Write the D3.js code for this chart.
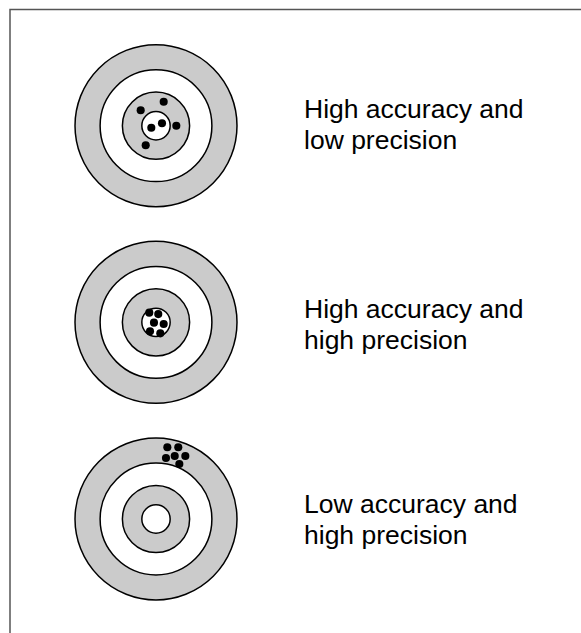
<!DOCTYPE html>
<html>
<head>
<meta charset="utf-8">
<script src="https://cdn.jsdelivr.net/npm/d3@7"></script>
<style>
html,body{margin:0;padding:0;background:#fff;}
svg{display:block;}
</style>
</head>
<body>
<script>
// ---- data ----
const targets = ["lowPrecision", "highBoth", "lowAccuracy"];
const labels = [
  ["High accuracy and", "low precision"],
  ["High accuracy and", "high precision"],
  ["Low accuracy and", "high precision"]
];
// ring radii in target units (outer = 10), outermost first
const ringRadii = [10, 6.9, 4.15, 1.75];
const ringFills = ["#cbcbcb", "#ffffff", "#cbcbcb", "#ffffff"];
// shot positions [dx, dy] in target units relative to the centre
const shotsLowPrecision = [[0.95,-2.96],[-1.89,-1.9],[0.74,-0.3],[-0.58,0.25],[2.51,0],[-1.27,2.42]];
const shotsHighBoth = [[-0.83,-1.2],[0.28,-1.02],[-0.25,0.04],[0.95,0.21],[-0.74,1.11],[0.53,1.36]];
const shotsLowAccuracy = [[1.4,-8.85],[2.75,-8.85],[1.23,-7.53],[2.31,-7.78],[3.62,-7.78],[2.88,-6.79]];
const shots = [shotsLowPrecision, shotsHighBoth, shotsLowAccuracy];
const shotRadius = 0.5;

// ---- drawing ----
const W = 581, H = 633;
const svg = d3.select("body").append("svg").attr("width", W).attr("height", H);

svg.append("rect")
  .attr("x", 10).attr("y", 9.5)
  .attr("width", W + 10).attr("height", H + 10)
  .attr("fill", "#fff").attr("stroke", "#555").attr("stroke-width", 1.5);

const rowY = d3.scalePoint().domain(targets).range([125.7, 519]);
const cx = 156;
const unit = d3.scaleLinear().domain([0, 10]).range([0, 81]);

targets.forEach((t, i) => {
  const g = svg.append("g").attr("transform", `translate(${cx},${rowY(t)})`);
  g.selectAll("circle.ring").data(ringRadii).join("circle")
    .attr("class", "ring")
    .attr("r", d => unit(d))
    .attr("fill", (d, j) => ringFills[j])
    .attr("stroke", "#000").attr("stroke-width", 1.5);
  g.selectAll("circle.shot").data(shots[i]).join("circle")
    .attr("class", "shot")
    .attr("cx", d => unit(d[0]))
    .attr("cy", d => unit(d[1]))
    .attr("r", unit(shotRadius))
    .attr("fill", "#000");
});

const textBase = [[117.5, 148.5], [317.7, 349], [512.7, 544]];
labels.forEach((lines, i) => {
  lines.forEach((line, k) => {
    svg.append("text")
      .attr("x", 304)
      .attr("y", textBase[i][k])
      .attr("font-family", "'Liberation Sans', Arial, Helvetica, sans-serif")
      .attr("font-size", 26.5)
      .attr("fill", "#000")
      .text(line);
  });
});
</script>
</body>
</html>
